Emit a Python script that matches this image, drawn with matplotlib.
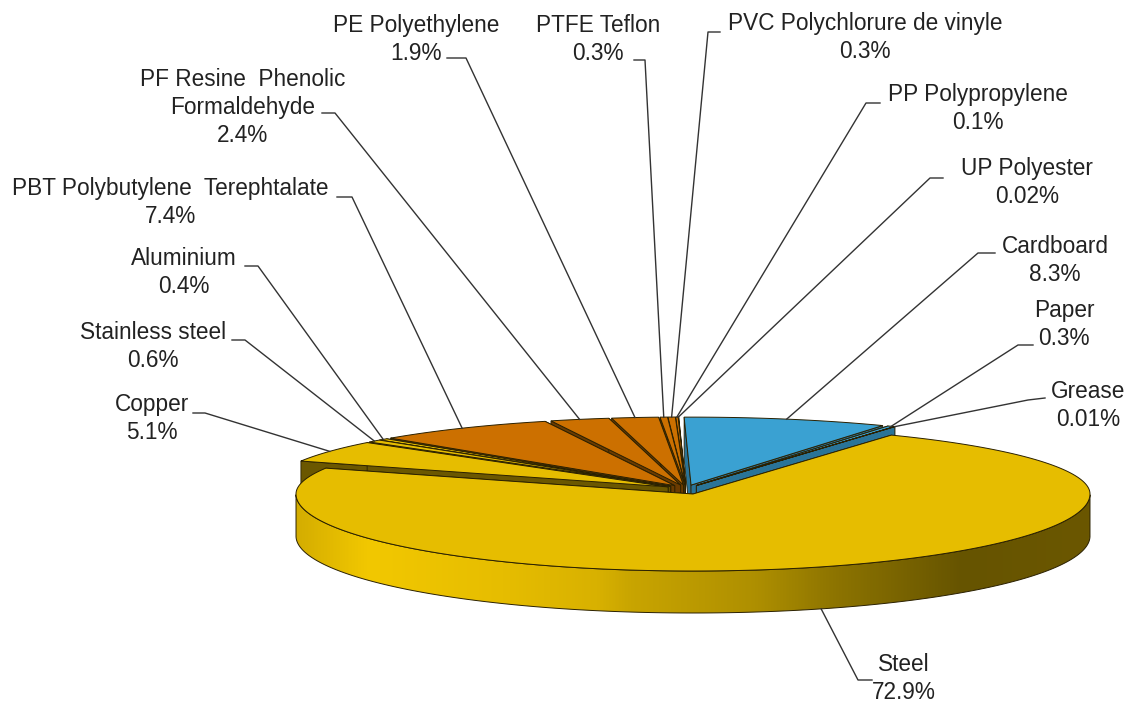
import numpy as np
import matplotlib
matplotlib.use('Agg')
import matplotlib.pyplot as plt
from matplotlib.patches import Polygon
from matplotlib.colors import LinearSegmentedColormap

plt.rcParams['font.family'] = ['Liberation Sans', 'DejaVu Sans']

# data, clockwise from 12 o'clock
names = ['Cardboard', 'Paper', 'Grease', 'Steel', 'Copper', 'Stainless steel', 'Aluminium',
         'PBT Polybutylene  Terephtalate', 'PF Resine  Phenolic\nFormaldehyde', 'PE Polyethylene',
         'PTFE Teflon', 'PVC Polychlorure de vinyle', 'PP Polypropylene', 'UP Polyester']
values = [8.3, 0.3, 0.01, 72.9, 5.1, 0.6, 0.4, 7.4, 2.4, 1.9, 0.3, 0.3, 0.1, 0.02]
value_labels = ['8.3%', '0.3%', '0.01%', '72.9%', '5.1%', '0.6%', '0.4%', '7.4%', '2.4%', '1.9%',
                '0.3%', '0.3%', '0.1%', '0.02%']
groups = ['paper', 'paper', 'grease', 'steel', 'metal', 'metal', 'metal', 'plastic', 'plastic',
          'plastic', 'plastic', 'plastic', 'plastic', 'plastic']

# label placement in pixels: text centre x, y of first line, elbow of leader line
label_x = [1055, 1064, 1088, 904, 152, 153, 184, 170, 243, 416, 598, 865, 978, 1027]
label_y = [248, 312, 393, 666, 406, 334, 260, 190, 81, 27, 27, 25, 96, 170]
elbow_start = [(995, 253), (1033, 345), (1045, 398), (872, 680), (193, 413), (232, 340), (245, 266),
               (337, 197), (322, 113), (447, 58), (634, 60), (720, 32), (880, 103), (943, 178)]
elbow = [(978, 253), (1018, 345), (1028, 400), (858, 680), (205, 413), (245, 340), (258, 266),
         (352, 197), (335, 113), (466, 58), (645, 60), (708, 32), (866, 103), (930, 178)]

top_colors = {'paper': '#3aa1d2', 'grease': '#3aa1d2', 'steel': '#e6bd00', 'metal': '#e6bd00', 'plastic': '#cc7000'}
wall_colors = {'paper': '#2a7498', 'grease': '#2a7498', 'steel': '#6b5700', 'metal': '#6b5700', 'plastic': '#6b3b00'}

# pie geometry (pixels)
rx = 397
ry_back = 68
ry_front = 77
depth = 42
center = (686, 490)
explode = 21
start_angle = -1.0


def ellipse_point(cx, cy, deg):
    t = np.radians(deg)
    ry = ry_back if np.cos(t) > 0 else ry_front
    return cx + rx * np.sin(t), cy - ry * np.cos(t)


def apex(i, mid):
    if groups[i] == 'steel':
        return 693, 494
    t = np.radians(mid)
    return center[0] + explode * np.sin(t), center[1] - 4 * np.cos(t) - 1


fig = plt.figure(figsize=(11.31, 7.03), dpi=100)
ax = fig.add_axes([0, 0, 1, 1])
ax.set_xlim(0, 1131)
ax.set_ylim(703, 0)
ax.axis('off')

cum = np.cumsum([0] + values)
scale = 360.0 / cum[-1]
starts = start_angle + cum[:-1] * scale
ends = start_angle + cum[1:] * scale
mids = (starts + ends) / 2


def draw_slice(i):
    cx, cy = apex(i, mids[i])
    deg = np.linspace(starts[i], ends[i], max(3, int(ends[i] - starts[i]) * 2))
    rim = [ellipse_point(cx, cy, d) for d in deg]
    top = top_colors[groups[i]]
    wall = wall_colors[groups[i]]
    for p in (rim[0], rim[-1]):
        face = [(cx, cy), p, (p[0], p[1] + depth), (cx, cy + depth)]
        ax.add_patch(Polygon(face, closed=True, fc=wall, ec='#2a2000', lw=0.6))
    ax.add_patch(Polygon([(cx, cy)] + rim, closed=True, fc=top, ec='#2a2000', lw=0.7))


# back to front: top-left slices from 12 o'clock down to copper, right slices, steel last
steel = groups.index('steel')
for i in range(len(values) - 1, steel, -1):
    draw_slice(i)
for i in range(0, steel):
    draw_slice(i)

# steel rim wall with gradient, then its top
cx, cy = apex(steel, mids[steel])
deg = np.linspace(starts[steel], ends[steel], 300)
rim = np.array([ellipse_point(cx, cy, d) for d in deg])
wall_deg = deg[(deg > 90) & (deg < 270)]
front = np.array([ellipse_point(cx, cy, d) for d in wall_deg])
outline = np.vstack([front, (front + [0, depth])[::-1]])
clip = Polygon(outline, closed=True, fc='none', ec='none')
ax.add_patch(clip)
wall_cmap = LinearSegmentedColormap.from_list('wall', [(0.0, '#d4ad00'), (0.09, '#f2c800'), (0.26, '#e6bd00'),
                                                      (0.38, '#d8b100'), (0.42, '#c9a500'), (0.58, '#ae8f00'),
                                                      (0.68, '#8d7400'), (0.84, '#665400'), (1.0, '#6b5700')])
img = ax.imshow(np.linspace(0, 1, 512).reshape(1, -1), cmap=wall_cmap, aspect='auto',
                extent=(cx - rx, cx + rx, 703, 0), zorder=1.5)
img.set_clip_path(clip)
ax.set_xlim(0, 1131)
ax.set_ylim(703, 0)
ax.add_patch(Polygon(outline, closed=True, fc='none', ec='#2a2000', lw=0.7, zorder=1.6))
# inner cut faces of steel
for p in (rim[0], rim[-1]):
    face = [(cx, cy), tuple(p), (p[0], p[1] + depth), (cx, cy + depth)]
    ax.add_patch(Polygon(face, closed=True, fc='#6b5700', ec='#2a2000', lw=0.6, zorder=1.4))
ax.add_patch(Polygon(np.vstack([[cx, cy], rim]), closed=True, fc=top_colors['steel'], ec='#2a2000',
                     lw=0.7, zorder=1.7))

# labels and leader lines
for i, name in enumerate(names):
    mid_cx, mid_cy = apex(i, mids[i])
    end = ellipse_point(mid_cx, mid_cy, mids[i])
    if groups[i] == 'steel':
        end = (end[0], end[1] + depth)
    xs = [elbow_start[i][0], elbow[i][0], end[0]]
    ys = [elbow_start[i][1], elbow[i][1], end[1]]
    ax.plot(xs, ys, color='#333333', lw=1.0, zorder=3)
    ax.text(label_x[i], label_y[i] - 13, name + '\n' + value_labels[i], ha='center', va='top',
            fontsize=16.3, color='#222222', linespacing=1.27, zorder=4, clip_on=False)

fig.savefig('out.png', dpi=100)
